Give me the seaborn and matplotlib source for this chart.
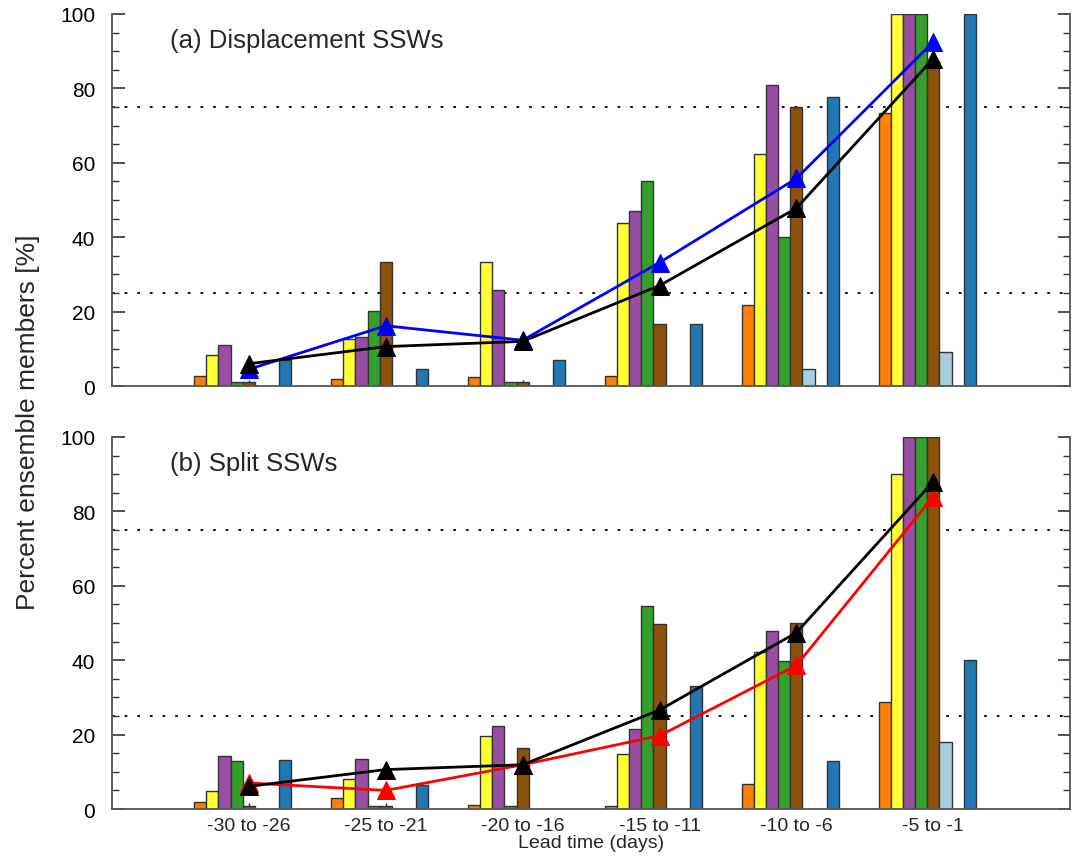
import numpy as np
import pandas as pd
import matplotlib
matplotlib.use("Agg")
import matplotlib.pyplot as plt
from matplotlib.ticker import MultipleLocator
import seaborn as sns

# lead time bins
lead_bins = ["-30 to -26", "-25 to -21", "-20 to -16", "-15 to -11", "-10 to -6", "-5 to -1"]

# bar series (order of the slots inside each group, "gap" slots stay empty)
series_order = ["s1", "s2", "s3", "s4", "s5", "s6", "gap1", "s7", "gap2"]
series_colors = {
    "s1": "#FF7F00", "s2": "#FFFF33", "s3": "#984EA3", "s4": "#33A02C",
    "s5": "#8C510A", "s6": "#A6CEE3", "s7": "#1F78B4",
    "gap1": "white", "gap2": "white",
}

# (a) displacement SSWs, percent of members per series
disp_s1 = [2.6, 1.9, 2.5, 2.6, 21.8, 73.3]
disp_s2 = [8.4, 12.6, 33.3, 43.7, 62.5, 100]
disp_s3 = [11.0, 13.1, 25.8, 47.1, 81.0, 100]
disp_s4 = [1.0, 20.2, 1.0, 55.0, 40.1, 100]
disp_s5 = [1.0, 33.3, 1.0, 16.7, 75.0, 87.5]
disp_s6 = [0, 0, 0, 0, 4.7, 9.2]
disp_s7 = [6.9, 4.6, 7.0, 16.7, 77.8, 100]
disp_all = [6.0, 10.6, 12.0, 27.0, 47.8, 88.0]
disp_mean = [4.5, 16.2, 12.3, 33.2, 55.8, 92.5]

# (b) split SSWs
split_s1 = [1.8, 2.9, 1.0, 0.8, 6.7, 28.7]
split_s2 = [4.8, 8.0, 19.7, 14.8, 42.3, 90.0]
split_s3 = [14.2, 13.4, 22.4, 21.5, 47.8, 100]
split_s4 = [13.0, 0.8, 0.7, 54.7, 39.7, 100]
split_s5 = [0.8, 0.8, 16.3, 49.6, 50.0, 100]
split_s6 = [0, 0, 0, 0, 0, 17.9]
split_s7 = [13.1, 6.5, 0, 33.0, 13.0, 40.0]
split_all = [6.1, 10.6, 11.9, 26.6, 47.4, 88.0]
split_mean = [7.0, 5.0, 11.9, 19.7, 38.6, 84.0]


def to_frame(cols):
    rows = []
    for name, vals in cols.items():
        for lab, v in zip(lead_bins, vals):
            if v > 0:
                rows.append({"lead": lab, "series": name, "pct": v})
    return pd.DataFrame(rows)


df_a = to_frame({"s1": disp_s1, "s2": disp_s2, "s3": disp_s3, "s4": disp_s4,
                 "s5": disp_s5, "s6": disp_s6, "s7": disp_s7})
df_b = to_frame({"s1": split_s1, "s2": split_s2, "s3": split_s3, "s4": split_s4,
                 "s5": split_s5, "s6": split_s6, "s7": split_s7})

sns.set_style("white")
plt.rcParams["font.family"] = ["Liberation Sans", "DejaVu Sans"]

fig = plt.figure(figsize=(10.79, 8.62), dpi=100)
ax_a = fig.add_axes([0.1038, 0.551, 0.888, 0.4316])
ax_b = fig.add_axes([0.1038, 0.0603, 0.888, 0.4316])

panels = [
    (ax_a, df_a, disp_all, disp_mean, "blue", "(a) Displacement SSWs"),
    (ax_b, df_b, split_all, split_mean, "red", "(b) Split SSWs"),
]

pos = np.arange(len(lead_bins))
for ax, df, line_all, line_sub, sub_color, title in panels:
    for lvl in (25, 75):
        ax.axhline(lvl, color="black", lw=1.3, ls=(0, (1.5, 5.5)), zorder=0)
    sns.barplot(data=df, x="lead", y="pct", hue="series", order=lead_bins,
                hue_order=series_order, palette=series_colors, width=0.8,
                saturation=1, errorbar=None, edgecolor="#333333", linewidth=1.0,
                legend=False, ax=ax, zorder=2)
    sns.lineplot(x=pos, y=line_sub, color=sub_color, lw=2, marker="^",
                 markersize=13, markeredgecolor=sub_color, ax=ax, zorder=4)
    sns.lineplot(x=pos, y=line_all, color="black", lw=2, marker="^",
                 markersize=13, markeredgecolor="black", ax=ax, zorder=5)

    ax.set_xlim(-1, 6)
    ax.set_ylim(0, 100)
    ax.yaxis.set_major_locator(MultipleLocator(20))
    ax.yaxis.set_minor_locator(MultipleLocator(5))
    ax.tick_params(axis="y", which="major", direction="in", length=9, width=1.2,
                   left=True, right=True, labelsize=15, pad=12,
                   colors="#333333", labelcolor="black")
    ax.tick_params(axis="y", which="minor", direction="in", length=5, width=1.0,
                   left=True, right=True, colors="#333333")
    ax.tick_params(axis="x", direction="in", length=4, width=1.0, bottom=True,
                   labelsize=14, pad=6)
    ax.set_xticks(pos)
    ax.set_xlabel("")
    ax.set_ylabel("")
    for side in ("left", "right", "bottom"):
        ax.spines[side].set_color("#555555")
        ax.spines[side].set_linewidth(1.3)
    ax.spines["top"].set_visible(False)
    ax.text(0.061, 0.93, title, transform=ax.transAxes, fontsize=18.5,
            va="center", ha="left")

ax_a.set_xticklabels([])
ax_b.set_xticklabels(lead_bins)
ax_b.set_xlabel("Lead time (days)", fontsize=14, labelpad=0)
fig.text(0.026, 0.51, "Percent ensemble members [%]", rotation=90,
         fontsize=19, va="center", ha="center")

fig.savefig("out.png", dpi=100)
